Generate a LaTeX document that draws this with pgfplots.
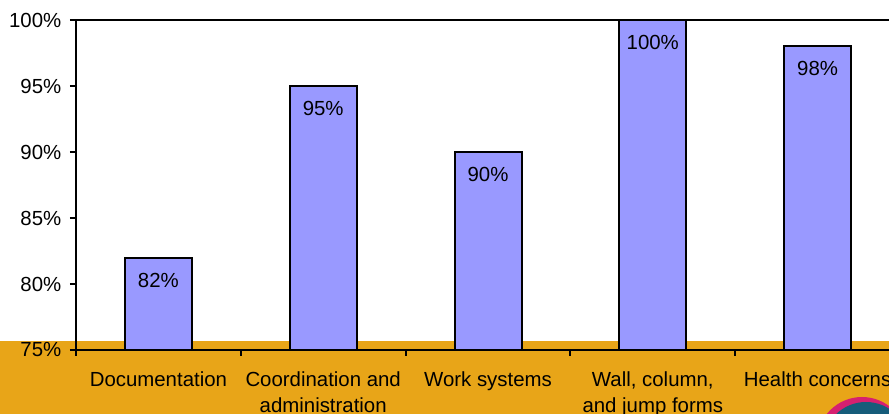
\documentclass[border=0pt]{standalone}
\usepackage{fontspec}
\setmainfont{Liberation Sans}
\usepackage{pgfplots}
\pgfplotsset{compat=1.18}
\definecolor{barblue}{RGB}{153,153,255}
\definecolor{slidegold}{RGB}{232,165,24}
\definecolor{logoteal}{RGB}{22,92,122}
\definecolor{logopink}{RGB}{214,32,112}
\begin{document}
\begin{tikzpicture}[x=0.75pt,y=0.75pt]
\begin{scope}
\clip (0,0) rectangle (889,414);
\fill[white] (0,0) rectangle (889,414);
% slide background band
\fill[slidegold] (0,0) rectangle (889,73);
\fill[logopink] (862,-28) circle (45);
\fill[logoteal] (866,-31) circle (43);
\begin{axis}[
    at={(57pt,48pt)}, anchor=south west,
    scale only axis,
    width=618pt, height=247.5pt,
    ybar, bar width=50.25pt,
    xmin=-0.5, xmax=4.5,
    ymin=75, ymax=100,
    xtick={0,...,4},
    xticklabels={Documentation,{Coordination and\\administration},Work systems,{Wall, column,\\and jump forms},Health concerns},
    minor xtick={-0.5,0.5,...,4.5},
    major x tick style={draw=none},
    ytick={75,80,...,100},
    yticklabel={\pgfmathprintnumber{\tick}\%},
    /pgf/number format/assume math mode=true,
    tick align=outside, tick pos=left,
    major tick length=4.5pt, minor tick length=4.5pt,
    tick style={black, line width=1.5pt},
    axis line style={black, line width=1.5pt},
    ticklabel style={font=\fontsize{15.3}{20}\selectfont},
    x tick label style={align=center, yshift=-8pt},
    y tick label style={xshift=-3pt},
    nodes near coords={\pgfmathprintnumber{\pgfplotspointmeta}\%},
    nodes near coords style={anchor=center, yshift=-16.9pt, font=\fontsize{15.3}{18}\selectfont},
]
\addplot[fill=barblue, draw=black, line width=1.5pt]
    coordinates {(0,82)(1,95)(2,90)(3,100)(4,98)};
\end{axis}
\end{scope}
\pgfresetboundingbox
\useasboundingbox (0,0) rectangle (889,414);
\end{tikzpicture}
\end{document}
